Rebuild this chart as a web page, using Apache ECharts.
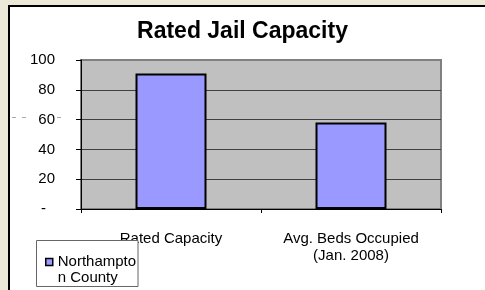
<!DOCTYPE html>
<html>
<head>
<meta charset="utf-8">
<script src="https://cdn.jsdelivr.net/npm/echarts@6/dist/echarts.min.js"></script>
<style>
  html, body { margin: 0; padding: 0; background: #ECE9D8; width: 485px; height: 290px; overflow: hidden; }
  #frame { position: absolute; left: 8px; top: 5px; width: 477px; height: 285px; box-sizing: border-box;
           border-left: 2px solid #000; border-top: 2px solid #000; background: #fff; }
  #chart { position: absolute; left: 0; top: 0; width: 485px; height: 290px; }
</style>
</head>
<body>
<div id="frame"></div>
<div id="chart"></div>
<script>
const title = 'Rated Jail Capacity';
const categories = ['Rated Capacity', 'Avg. Beds Occupied\n(Jan. 2008)'];
const seriesName = 'Northampton County';
const legendLabel = ' \nNorthampto\nn County';
const values = [91, 58];
const yMin = 0, yMax = 100, yStep = 20;

const FONT = '"Liberation Sans", Arial, sans-serif';
const chart = echarts.init(document.getElementById('chart'), null, { renderer: 'canvas' });
chart.setOption({
  backgroundColor: 'transparent',
  animation: false,
  textStyle: { fontFamily: FONT },
  title: {
    text: title, left: 'center', top: 20, padding: 0,
    textStyle: { fontFamily: FONT, fontSize: 23, fontWeight: 'bold', color: '#000' }
  },
  grid: {
    left: 81, right: 44, top: 60, bottom: 81,
    show: true, backgroundColor: '#C0C0C0', borderColor: '#808080', borderWidth: 2
  },
  xAxis: {
    type: 'category', data: categories,
    axisLine: { lineStyle: { color: '#000', width: 1 } },
    axisTick: { show: true, length: 4, lineStyle: { color: '#000' } },
    axisLabel: { fontFamily: FONT, fontSize: 15, lineHeight: 17, color: '#000', margin: 21, interval: 0 }
  },
  yAxis: {
    type: 'value', min: yMin, max: yMax, interval: yStep,
    axisLine: { show: true, lineStyle: { color: '#000', width: 1 } },
    axisTick: { show: true, length: 5, lineStyle: { color: '#000' } },
    splitLine: { show: true, showMaxLine: false, showMinLine: false, lineStyle: { color: '#404040', width: 1 } },
    axisLabel: {
      fontFamily: FONT, fontSize: 15, color: '#000', margin: 26,
      formatter: v => v === 0 ? '{d|-}' : String(v),
      rich: { d: { fontFamily: FONT, fontSize: 15, color: '#000', padding: [0, 9, 0, 0] } }
    }
  },
  legend: {
    data: [seriesName], left: 45, top: 238, padding: 0, z: 20,
    icon: 'rect', itemWidth: 7, itemHeight: 7,
    itemStyle: { borderColor: '#000', borderWidth: 1.5 },
    formatter: () => legendLabel,
    textStyle: { fontFamily: FONT, fontSize: 15, lineHeight: 16, color: '#000' }
  },
  graphic: [
    { type: 'rect', z: 10, shape: { x: 36.5, y: 240.5, width: 101.5, height: 46 },
      style: { fill: '#fff', stroke: '#666', lineWidth: 1 } },
    { type: 'line', z: 1, shape: { x1: 12, y1: 117.5, x2: 26, y2: 117.5 },
      style: { stroke: '#aaa', lineWidth: 1, lineDash: [4, 6] } },
    { type: 'line', z: 1, shape: { x1: 57, y1: 117.5, x2: 61, y2: 117.5 },
      style: { stroke: '#aaa', lineWidth: 1 } }
  ],
  series: [{
    name: seriesName, type: 'bar', data: values, barWidth: 71,
    itemStyle: { color: '#9999FF', borderColor: '#000', borderWidth: 2 }
  }]
});
</script>
</body>
</html>
